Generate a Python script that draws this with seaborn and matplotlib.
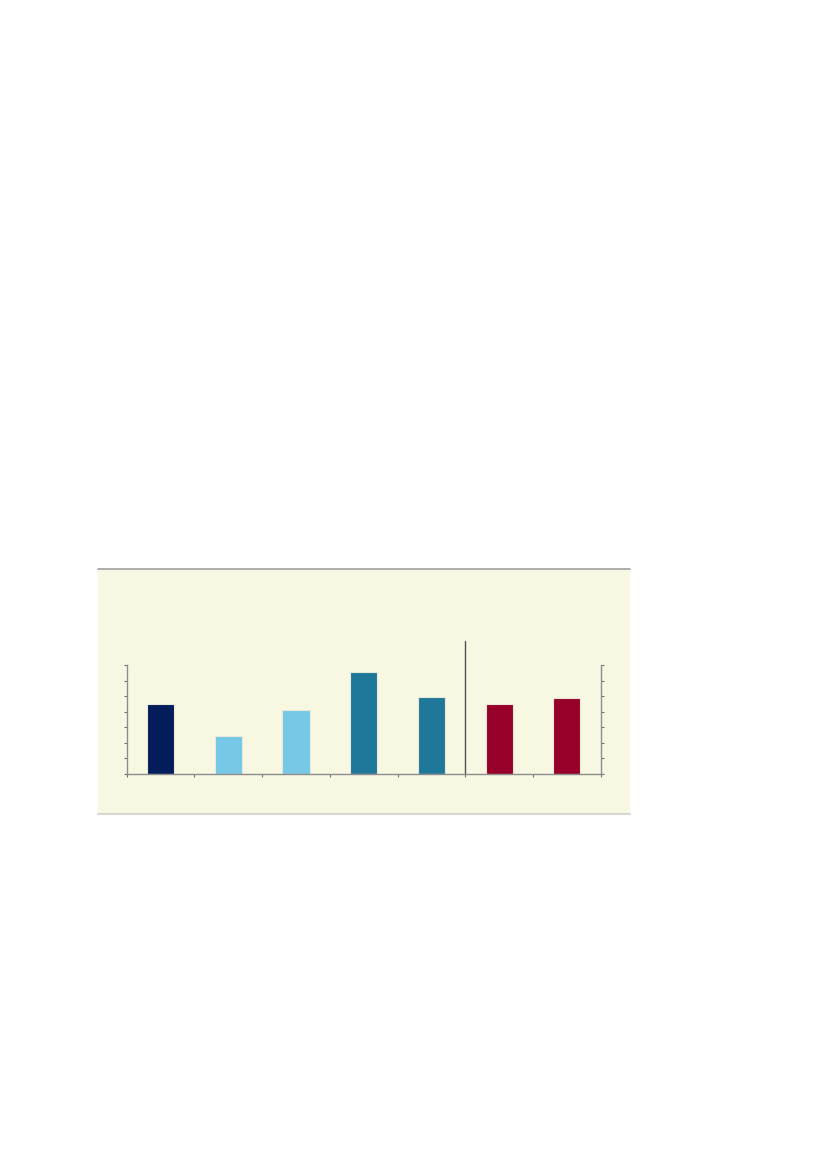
import matplotlib
matplotlib.use("Agg")
import matplotlib.pyplot as plt
from matplotlib.patches import Rectangle
from matplotlib.lines import Line2D
import seaborn as sns
import pandas as pd

categories = ["A", "B", "C", "D", "E", "F", "G"]
values = [4.47, 2.44, 4.08, 6.58, 4.97, 4.47, 4.90]
groups = ["g1", "g2", "g2", "g3", "g3", "g4", "g4"]
palette = {"g1": "#031C5A", "g2": "#76C8E6", "g3": "#1F7899", "g4": "#960029"}

df = pd.DataFrame({"cat": categories, "val": values, "grp": groups})

sns.set_theme(style="white")
W, H = 827, 1169
fig = plt.figure(figsize=(W / 100, H / 100), dpi=100)
fig.patch.set_facecolor("white")

# panel background
px0, px1, py0, py1 = 98.3, 630, 569.3, 814
fig.patches.append(Rectangle((px0 / W, 1 - py1 / H), (px1 - px0) / W, (py1 - py0) / H,
                             transform=fig.transFigure, facecolor="#F8F7E1",
                             edgecolor="none", zorder=-5))
fig.lines.append(Line2D([px0 / W, px1 / W], [1 - py0 / H, 1 - py0 / H],
                        transform=fig.transFigure, color="#A0A0A0", lw=1.2, zorder=-4))
fig.lines.append(Line2D([px0 / W, px1 / W], [1 - py1 / H, 1 - py1 / H],
                        transform=fig.transFigure, color="#D8D8D0", lw=1.5, zorder=-4))

ax0, ax1, ay_top, ay_bot = 126.7, 600.7, 665.3, 773.5
ax = fig.add_axes([ax0 / W, 1 - ay_bot / H, (ax1 - ax0) / W, (ay_bot - ay_top) / H])
ax.set_facecolor("none")
ax.set_zorder(2)

sns.barplot(data=df, x="cat", y="val", hue="grp", palette=palette, dodge=False,
            width=0.4, legend=False, ax=ax, edgecolor="#E8E8D8", linewidth=0.8,
            saturation=1)

ax.set_xlim(-0.5, 6.5)
ax.set_ylim(0, 7)
ax.set_xlabel("")
ax.set_ylabel("")
ax.set_yticks(range(0, 8))
ax.set_xticks([i - 0.5 for i in range(0, 8)])
ax.set_xticklabels([])
ax.set_yticklabels([])
ax.tick_params(axis="both", direction="out", length=2.2, width=0.8, color="#707070")
ax.tick_params(axis="y", left=True, right=True)
ax.tick_params(axis="x", bottom=True)

for side in ["left", "right", "bottom"]:
    ax.spines[side].set_visible(True)
    ax.spines[side].set_color("#8C8C8C")
    ax.spines[side].set_linewidth(1.0)
ax.spines["top"].set_visible(False)

# divider line
top_val = (ay_bot - 641) / (ay_bot - ay_top) * 7
ax.plot([4.5, 4.5], [0, top_val], color="#505050", lw=1.0, clip_on=False)

fig.savefig("out.png", dpi=100)
